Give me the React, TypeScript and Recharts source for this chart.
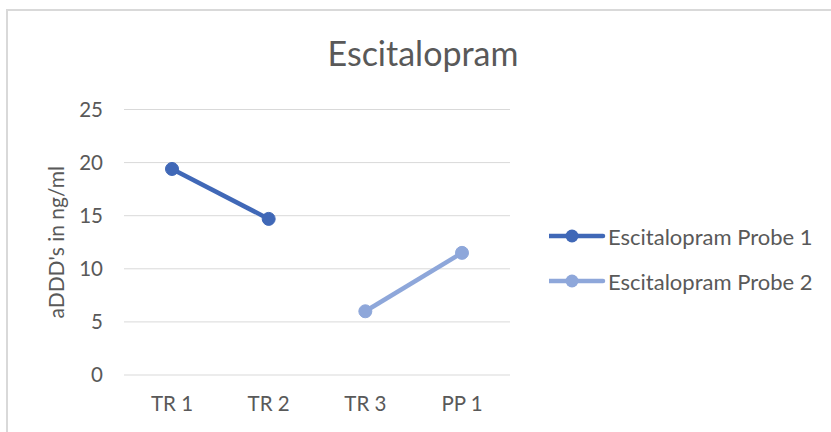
import { LineChart, Line, XAxis, YAxis, CartesianGrid, Legend } from 'recharts'

const categories = ['TR 1', 'TR 2', 'TR 3', 'PP 1']
const probe1 = [19.4, 14.7, null, null]
const probe2 = [null, null, 6.0, 11.5]
const yTicks = [0, 5, 10, 15, 20, 25]

const seriesNames = ['Escitalopram Probe 1', 'Escitalopram Probe 2']
const colors = ['#4068B7', '#8EA7DA']

const FONT = 'Lato, "Open Sans", sans-serif'
const TEXT = '#595959'

const data = categories.map((name, i) => ({
  name,
  p1: probe1[i],
  p2: probe2[i],
}))

function LegendContent({ payload }: any) {
  return (
    <div style={{ fontFamily: FONT, fontSize: 22, color: TEXT }}>
      {(payload || []).map((entry: any) => (
        <div
          key={entry.value}
          style={{ display: 'flex', alignItems: 'center', height: 45, whiteSpace: 'nowrap' }}
        >
          <svg width={59} height={16} style={{ display: 'block' }}>
            <line x1={0} y1={8} x2={54} y2={8} stroke={entry.color} strokeWidth={4.5} strokeLinecap="round" />
            <circle cx={23} cy={8} r={6.5} fill={entry.color} />
          </svg>
          <span>{entry.value}</span>
        </div>
      ))}
    </div>
  )
}

export default function App() {
  return (
    <div
      style={{
        position: 'absolute',
        left: 0,
        top: 0,
        width: 831,
        height: 432,
        overflow: 'hidden',
        background: '#fff',
      }}
    >
      <div
        style={{
          position: 'absolute',
          left: 6,
          top: 9,
          width: 900,
          height: 500,
          border: '2px solid #D9D9D9',
        }}
      />
      <div
        style={{
          position: 'absolute',
          left: 223,
          width: 400,
          top: 33,
          textAlign: 'center',
          fontFamily: FONT,
          fontSize: 34,
          color: TEXT,
          lineHeight: '40px',
        }}
      >
        Escitalopram
      </div>
      <LineChart
        width={831}
        height={432}
        data={data}
        margin={{ top: 109.5, right: 321, bottom: 17, left: 40 }}
      >
        <CartesianGrid vertical={false} stroke="#D9D9D9" strokeWidth={1} />
        <XAxis
          dataKey="name"
          axisLine={false}
          tickLine={false}
          tickSize={0}
          tickMargin={21}
          height={40}
          padding={{ left: 48, right: 48 }}
          tick={{ fill: TEXT, fontSize: 20.5, fontFamily: FONT }}
        />
        <YAxis
          width={84}
          domain={[0, 25]}
          ticks={yTicks}
          axisLine={false}
          tickLine={false}
          tickSize={0}
          tickMargin={21}
          tick={{ fill: TEXT, fontSize: 20.5, fontFamily: FONT }}
          label={{
            value: "aDDD's in ng/ml",
            angle: -90,
            position: 'insideLeft',
            offset: 17,
            style: { textAnchor: 'middle', fill: TEXT, fontSize: 21, fontFamily: FONT },
          }}
        />
        <Legend
          layout="vertical"
          align="center"
          verticalAlign="middle"
          content={<LegendContent />}
          wrapperStyle={{ left: 549, top: 213.5, width: 'auto' }}
        />
        <Line
          dataKey="p1"
          name={seriesNames[0]}
          stroke={colors[0]}
          strokeWidth={4.5}
          dot={{ r: 6.5, fill: colors[0], stroke: colors[0], strokeWidth: 1 }}
          activeDot={false}
          isAnimationActive={false}
        />
        <Line
          dataKey="p2"
          name={seriesNames[1]}
          stroke={colors[1]}
          strokeWidth={4.5}
          dot={{ r: 6.5, fill: colors[1], stroke: colors[1], strokeWidth: 1 }}
          activeDot={false}
          isAnimationActive={false}
        />
      </LineChart>
    </div>
  )
}
